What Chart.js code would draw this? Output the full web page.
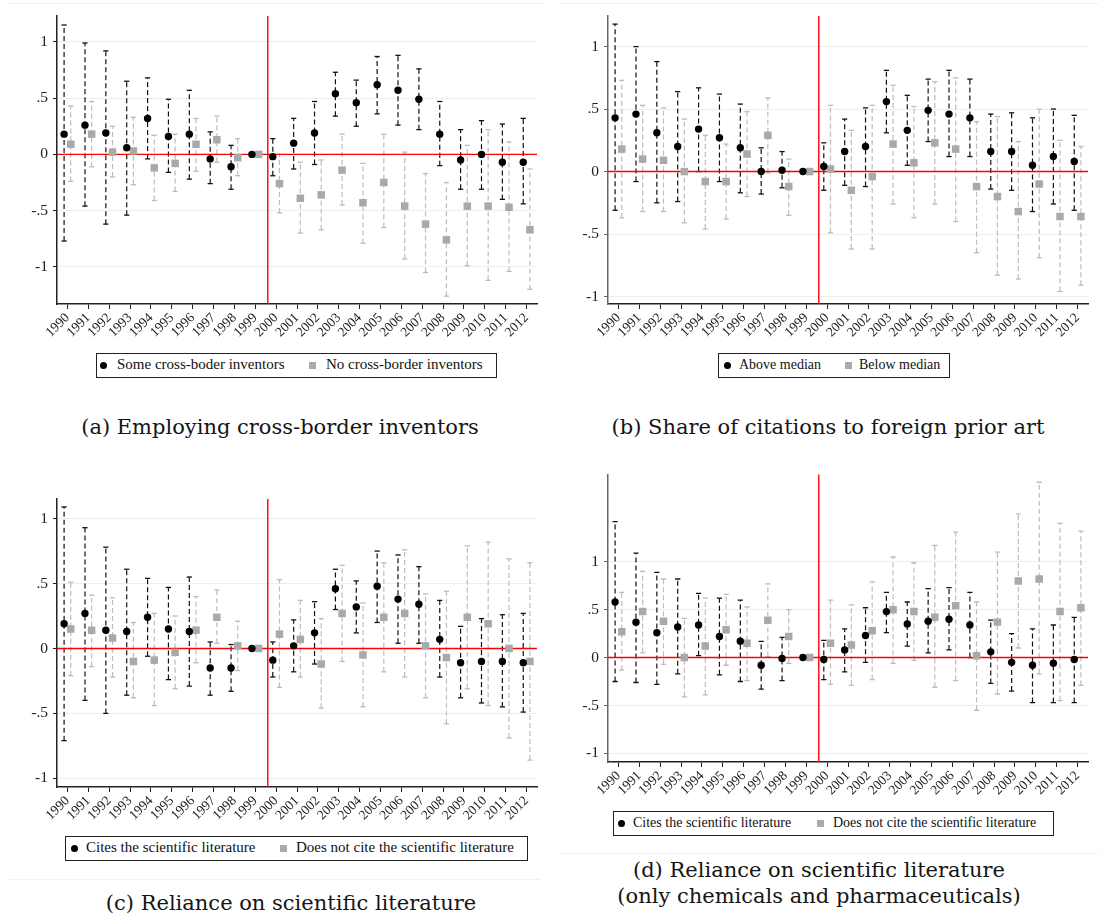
<!DOCTYPE html>
<html>
<head>
<meta charset="utf-8">
<script src="https://cdn.jsdelivr.net/npm/chart.js@4/dist/chart.umd.min.js"></script>
<style>
  body { margin: 0; background: #fff; width: 1099px; height: 918px; position: relative; overflow: hidden; font-family: "Liberation Serif", serif; }
  canvas { position: absolute; }
  .legend { position: absolute; border: 1px solid #222; box-sizing: border-box; height: 25px; font-size: 14px; color: #111; }
  .legend.big { font-size: 15px; }
  .legend span { position: absolute; top: 3px; white-space: nowrap; }
  .legend.big span { top: 2px; }
  .dot { position: absolute; top: 8px; width: 7px; height: 7px; border-radius: 50%; background: #000; }
  .sq { position: absolute; top: 8px; width: 7px; height: 7px; background: #aaa; }
  .caption { position: absolute; font-family: "DejaVu Serif", serif; font-size: 21px; line-height: 26px; text-align: center; color: #151515; white-space: nowrap; }
  .rule { position: absolute; height: 1px; background: #eef2f2; }
</style>
</head>
<body>

<div class="rule" style="left:8px; top:3px; width:537px"></div>
<div class="rule" style="left:560px; top:3px; width:539px"></div>
<div class="rule" style="left:8px; top:879px; width:532px"></div>
<div class="rule" style="left:560px; top:853px; width:539px"></div>

<canvas id="panelA" width="550" height="345" style="left:0; top:0"></canvas>
<canvas id="panelB" width="549" height="345" style="left:550px; top:0"></canvas>
<canvas id="panelC" width="550" height="370" style="left:0; top:460px"></canvas>
<canvas id="panelD" width="549" height="345" style="left:550px; top:460px"></canvas>

<div class="legend big" style="left:96px; top:353px; width:401px">
  <i class="dot" style="left:3px"></i><span style="left:20px">Some cross-boder inventors</span>
  <i class="sq" style="left:212px"></i><span style="left:229px">No cross-border inventors</span>
</div>
<div class="legend" style="left:718px; top:353px; width:232px">
  <i class="dot" style="left:5px"></i><span style="left:20px">Above median</span>
  <i class="sq" style="left:126px"></i><span style="left:140px">Below median</span>
</div>
<div class="legend big" style="left:65px; top:836px; width:463px">
  <i class="dot" style="left:5px"></i><span style="left:20px">Cites the scientific literature</span>
  <i class="sq" style="left:214px"></i><span style="left:230px">Does not cite the scientific literature</span>
</div>
<div class="legend" style="left:613px; top:811px; width:441px">
  <i class="dot" style="left:4px"></i><span style="left:19px">Cites the scientific literature</span>
  <i class="sq" style="left:203px"></i><span style="left:219px">Does not cite the scientific literature</span>
</div>

<div class="caption" style="left:30px; top:414px; width:500px">(a) Employing cross-border inventors</div>
<div class="caption" style="left:578px; top:414px; width:500px">(b) Share of citations to foreign prior art</div>
<div class="caption" style="left:41px; top:890px; width:500px">(c) Reliance on scientific literature</div>
<div class="caption" style="left:569px; top:857px; width:500px">(d) Reliance on scientific literature<br>(only chemicals and pharmaceuticals)</div>

<script>
const YEARS = [1990, 1991, 1992, 1993, 1994, 1995, 1996, 1997, 1998, 1999, 2000,
    2001, 2002, 2003, 2004, 2005, 2006, 2007, 2008, 2009, 2010, 2011, 2012];
const Y_TICKS = [-1, -0.5, 0, 0.5, 1];
const REFORM_YEAR = 1999.6;

// (a) cross-border inventors
const A_SOME    = [0.18, 0.26, 0.19, 0.06, 0.32, 0.16, 0.18, -0.04, -0.11, 0, -0.02, 0.10, 0.19, 0.54, 0.46, 0.62, 0.57, 0.49, 0.18, -0.05, 0, -0.07, -0.07];
const A_SOME_HI = [1.15, 0.99, 0.92, 0.65, 0.68, 0.49, 0.57, 0.20, 0.08, 0, 0.14, 0.32, 0.47, 0.73, 0.66, 0.87, 0.88, 0.76, 0.47, 0.22, 0.30, 0.27, 0.32];
const A_SOME_LO = [-0.77, -0.46, -0.62, -0.54, -0.04, -0.16, -0.22, -0.26, -0.31, 0, -0.19, -0.13, -0.09, 0.34, 0.25, 0.36, 0.26, 0.22, -0.10, -0.31, -0.31, -0.40, -0.44];
const A_NONE    = [0.09, 0.18, 0.02, 0.03, -0.12, -0.08, 0.09, 0.13, -0.03, 0, -0.26, -0.39, -0.36, -0.14, -0.43, -0.25, -0.46, -0.62, -0.76, -0.46, -0.46, -0.47, -0.67];
const A_NONE_HI = [0.43, 0.47, 0.25, 0.33, 0.17, 0.18, 0.32, 0.34, 0.14, 0, 0.0, -0.07, -0.05, 0.18, -0.08, 0.18, 0.02, -0.17, -0.25, 0.08, 0.22, 0.11, -0.13];
const A_NONE_LO = [-0.24, -0.11, -0.20, -0.27, -0.41, -0.33, -0.15, -0.07, -0.19, 0, -0.52, -0.70, -0.67, -0.45, -0.79, -0.65, -0.93, -1.05, -1.26, -0.99, -1.12, -1.04, -1.20];

// (b) share of foreign citations
const B_ABOVE    = [0.43, 0.46, 0.31, 0.20, 0.34, 0.27, 0.19, 0.0, 0.01, 0, 0.04, 0.16, 0.20, 0.56, 0.33, 0.49, 0.46, 0.43, 0.16, 0.16, 0.05, 0.12, 0.08];
const B_ABOVE_HI = [1.18, 1.0, 0.88, 0.64, 0.67, 0.62, 0.54, 0.19, 0.16, 0, 0.23, 0.42, 0.51, 0.81, 0.61, 0.74, 0.81, 0.74, 0.46, 0.47, 0.43, 0.50, 0.45];
const B_ABOVE_LO = [-0.31, -0.08, -0.25, -0.24, 0.0, -0.08, -0.17, -0.18, -0.13, 0, -0.15, -0.11, -0.12, 0.31, 0.05, 0.24, 0.12, 0.12, -0.14, -0.15, -0.32, -0.26, -0.31];
const B_BELOW    = [0.18, 0.10, 0.09, 0.0, -0.08, -0.08, 0.14, 0.29, -0.12, 0, 0.02, -0.15, -0.04, 0.22, 0.07, 0.23, 0.18, -0.12, -0.20, -0.32, -0.10, -0.36, -0.36];
const B_BELOW_HI = [0.73, 0.53, 0.51, 0.42, 0.29, 0.22, 0.48, 0.59, 0.10, 0, 0.53, 0.33, 0.53, 0.69, 0.52, 0.72, 0.75, 0.40, 0.44, 0.24, 0.50, 0.25, 0.20];
const B_BELOW_LO = [-0.37, -0.32, -0.32, -0.41, -0.46, -0.38, -0.20, -0.01, -0.35, 0, -0.49, -0.62, -0.62, -0.26, -0.37, -0.26, -0.40, -0.65, -0.83, -0.86, -0.69, -0.96, -0.91];

// (c) scientific literature, all fields
const C_CITES    = [0.19, 0.27, 0.14, 0.13, 0.24, 0.15, 0.13, -0.15, -0.15, 0, -0.09, 0.02, 0.12, 0.46, 0.32, 0.48, 0.38, 0.34, 0.07, -0.11, -0.10, -0.10, -0.11];
const C_CITES_HI = [1.09, 0.93, 0.78, 0.61, 0.54, 0.47, 0.55, 0.05, 0.03, 0, 0.05, 0.22, 0.36, 0.61, 0.52, 0.75, 0.72, 0.63, 0.37, 0.17, 0.23, 0.26, 0.27];
const C_CITES_LO = [-0.71, -0.40, -0.50, -0.36, -0.06, -0.24, -0.29, -0.36, -0.33, 0, -0.22, -0.18, -0.12, 0.30, 0.12, 0.20, 0.04, 0.04, -0.22, -0.38, -0.42, -0.45, -0.49];
const C_NOT      = [0.15, 0.14, 0.08, -0.10, -0.09, -0.03, 0.14, 0.24, 0.02, 0, 0.11, 0.07, -0.12, 0.27, -0.05, 0.24, 0.27, 0.02, -0.07, 0.24, 0.19, 0, -0.10];
const C_NOT_HI   = [0.51, 0.41, 0.39, 0.20, 0.27, 0.25, 0.40, 0.45, 0.21, 0, 0.53, 0.37, 0.23, 0.64, 0.35, 0.66, 0.76, 0.42, 0.44, 0.79, 0.82, 0.69, 0.66];
const C_NOT_LO   = [-0.21, -0.14, -0.22, -0.38, -0.44, -0.31, -0.11, 0.04, -0.17, 0, -0.30, -0.22, -0.46, -0.10, -0.45, -0.18, -0.22, -0.38, -0.58, -0.31, -0.44, -0.69, -0.86];

// (d) scientific literature, chemicals and pharmaceuticals
const D_CITES    = [0.58, 0.37, 0.26, 0.32, 0.34, 0.22, 0.17, -0.08, -0.01, 0, -0.02, 0.08, 0.23, 0.48, 0.35, 0.38, 0.40, 0.34, 0.06, -0.05, -0.08, -0.06, -0.02];
const D_CITES_HI = [1.42, 1.09, 0.89, 0.82, 0.67, 0.62, 0.60, 0.17, 0.21, 0, 0.18, 0.30, 0.52, 0.68, 0.58, 0.72, 0.73, 0.68, 0.39, 0.25, 0.30, 0.34, 0.42];
const D_CITES_LO = [-0.25, -0.26, -0.28, -0.17, 0.02, -0.18, -0.25, -0.33, -0.24, 0, -0.23, -0.15, -0.05, 0.26, 0.12, 0.05, 0.08, 0.0, -0.27, -0.35, -0.47, -0.47, -0.47];
const D_NOT      = [0.27, 0.48, 0.38, 0.0, 0.12, 0.29, 0.15, 0.39, 0.22, 0, 0.15, 0.13, 0.28, 0.50, 0.48, 0.42, 0.54, 0.02, 0.37, 0.80, 0.82, 0.48, 0.52];
const D_NOT_HI   = [0.68, 0.90, 0.82, 0.41, 0.62, 0.66, 0.53, 0.77, 0.50, 0, 0.60, 0.55, 0.79, 1.05, 0.99, 1.17, 1.31, 0.58, 1.10, 1.50, 1.83, 1.40, 1.32];
const D_NOT_LO   = [-0.13, 0.05, -0.07, -0.41, -0.39, -0.08, -0.24, 0.01, -0.06, 0, -0.28, -0.29, -0.23, -0.06, -0.03, -0.31, -0.24, -0.55, -0.38, 0.10, -0.17, -0.45, -0.29];

const X_MIN = 1989.5;
const X_MAX = 2012.5;
const SHIFT = 0.16;
const FONT = '"Liberation Serif", serif';

function fmtTick(v) {
    if (v === 0) return '0';
    return String(v).replace('0.', '.');
}

// one dashed segment per year, broken by null points; caps come from the 'line' point style
function ciData(lo, hi, shift) {
    const out = [];
    YEARS.forEach((yr, i) => {
        if (lo[i] === hi[i]) return;
        out.push({x: yr + shift, y: lo[i]}, {x: yr + shift, y: hi[i]}, {x: yr + shift, y: null});
    });
    return out;
}

function ciSet(lo, hi, shift, color) {
    return {
        type: 'line', order: 3,
        data: ciData(lo, hi, shift),
        borderColor: color, borderWidth: 1.2, borderDash: [5, 3],
        pointStyle: 'line', pointRadius: 2.6, pointBorderColor: color, pointBorderWidth: 1.3,
        spanGaps: false,
    };
}

function markerSet(values, shift, style) {
    const black = style === 'circle';
    return {
        type: 'line', order: 0, showLine: false,
        data: YEARS.map((yr, i) => ({x: yr + shift, y: values[i]})),
        pointStyle: style,
        pointRadius: black ? 3.7 : 5.3,
        pointBackgroundColor: black ? '#000' : '#a9a9a9',
        pointBorderWidth: 0,
    };
}

function drawPanel(id, p) {
    const red = '#ff0000';
    new Chart(document.getElementById(id), {
        type: 'line',
        data: {
            datasets: [
                markerSet(p.dark, -SHIFT, 'circle'),
                markerSet(p.light, SHIFT, 'rect'),
                {type: 'line', order: 1, data: [{x: X_MIN, y: 0}, {x: X_MAX, y: 0}],
                 borderColor: red, borderWidth: 1.4, pointRadius: 0},
                {type: 'line', order: 1, data: [{x: REFORM_YEAR, y: p.yMin}, {x: REFORM_YEAR, y: p.yMax}],
                 borderColor: red, borderWidth: 1.4, pointRadius: 0},
                ciSet(p.darkLo, p.darkHi, -SHIFT, '#111'),
                ciSet(p.lightLo, p.lightHi, SHIFT, '#bcbcbc'),
            ],
        },
        options: {
            responsive: false,
            animation: false,
            devicePixelRatio: 1,
            layout: {padding: {left: 0, right: p.padRight, top: p.padTop, bottom: 0}},
            plugins: {legend: {display: false}, tooltip: {enabled: false}},
            scales: {
                x: {
                    type: 'linear', min: X_MIN, max: X_MAX,
                    afterBuildTicks: (s) => { s.ticks = YEARS.map((v) => ({value: v})); },
                    afterFit: (s) => { s.height = p.xHeight; },
                    grid: {drawOnChartArea: false, drawTicks: true, tickLength: 5, tickColor: '#222', tickWidth: 1},
                    border: {color: '#222', width: 1.5},
                    ticks: {autoSkip: false, minRotation: 45, maxRotation: 45, padding: 1, color: '#222',
                            font: {family: FONT, size: 13.5}, callback: (v) => String(v)},
                },
                y: {
                    type: 'linear', min: p.yMin, max: p.yMax,
                    afterBuildTicks: (s) => { s.ticks = Y_TICKS.map((v) => ({value: v})); },
                    afterFit: (s) => { s.width = p.yWidth; },
                    grid: {color: '#e9f0f0', lineWidth: 1, tickLength: 4, tickColor: p.axisColor},
                    border: {color: p.axisColor, width: 1.5},
                    ticks: {padding: 5, color: '#222', font: {family: FONT, size: 15.5}, callback: fmtTick},
                },
            },
        },
    });
}

drawPanel('panelA', {
    dark: A_SOME, darkLo: A_SOME_LO, darkHi: A_SOME_HI,
    light: A_NONE, lightLo: A_NONE_LO, lightHi: A_NONE_HI,
    yMin: -1.33, yMax: 1.23, axisColor: '#222',
    yWidth: 57, padRight: 13, padTop: 16, xHeight: 41,
});
drawPanel('panelB', {
    dark: B_ABOVE, darkLo: B_ABOVE_LO, darkHi: B_ABOVE_HI,
    light: B_BELOW, lightLo: B_BELOW_LO, lightHi: B_BELOW_HI,
    yMin: -1.06, yMax: 1.245, axisColor: '#666',
    yWidth: 58, padRight: 11, padTop: 16, xHeight: 41,
});
drawPanel('panelC', {
    dark: C_CITES, darkLo: C_CITES_LO, darkHi: C_CITES_HI,
    light: C_NOT, lightLo: C_NOT_LO, lightHi: C_NOT_HI,
    yMin: -1.067, yMax: 1.151, axisColor: '#222',
    yWidth: 57, padRight: 13, padTop: 39, xHeight: 43,
});
drawPanel('panelD', {
    dark: D_CITES, darkLo: D_CITES_LO, darkHi: D_CITES_HI,
    light: D_NOT, lightLo: D_NOT_LO, lightHi: D_NOT_HI,
    yMin: -1.09, yMax: 1.913, axisColor: '#666',
    yWidth: 58, padRight: 11, padTop: 14, xHeight: 43,
});
</script>
</body>
</html>
